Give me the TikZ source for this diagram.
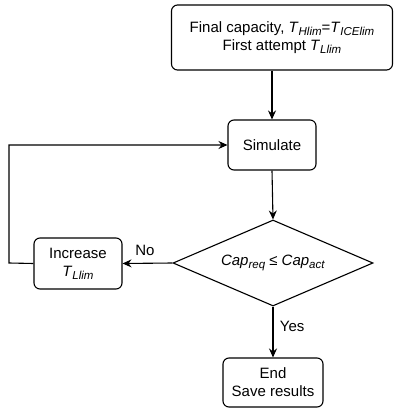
\documentclass[tikz,border=0pt]{standalone}
\usepackage{fontspec}
\setmainfont{Liberation Sans}
\usetikzlibrary{shapes.geometric,arrows.meta}
\newcommand{\vsub}[2]{\textit{#1}\raisebox{-3pt}{\fontsize{11.5}{13}\selectfont\textit{#2}}}
\begin{document}
\begin{tikzpicture}[x=1pt,y=-1pt,
  box/.style={draw,rounded corners=6pt,line width=1.1pt,align=center,inner sep=0pt},
  conn/.style={line width=1.1pt,-{Stealth[length=9pt,width=8pt,inset=3pt]}},
  font=\fontsize{15}{18}\selectfont]
\useasboundingbox (0,0) rectangle (394,409);
\node[box,minimum width=221pt,minimum height=65pt] (start) at (282,37.5) {Final capacity, \vsub{T}{Hlim}=\vsub{T}{ICElim}\\First attempt \vsub{T}{Llim}};
\node[box,minimum width=88pt,minimum height=50pt] (sim) at (272,145) {Simulate};
\node[draw,line width=1.1pt,diamond,aspect=2.33,inner sep=0pt,minimum width=200pt,minimum height=86pt] (dec) at (273,263) {\vsub{Cap}{req} ≤ \vsub{Cap}{act}};
\node[box,minimum width=88pt,minimum height=51pt] (inc) at (78,263.5) {Increase\\\vsub{T}{Llim}};
\node[box,minimum width=100pt,minimum height=49pt] (end) at (273,382.5) {End\\Save results};
\coordinate (c1) at (9,263);
\coordinate (c2) at (9,145);
\draw[conn] (start.south -| sim.north) -- (sim.north);
\draw[conn] (sim.south) -- (dec.north);
\draw[conn] (dec.west) -- node[above=4pt,pos=0.55] {No} (inc.east);
\draw[conn] (dec.south) -- node[right=3pt,pos=0.4] {Yes} (end.north);
\draw[conn] (inc.west) -- (c1) -- (c2) -- (sim.west);
\end{tikzpicture}
\end{document}
